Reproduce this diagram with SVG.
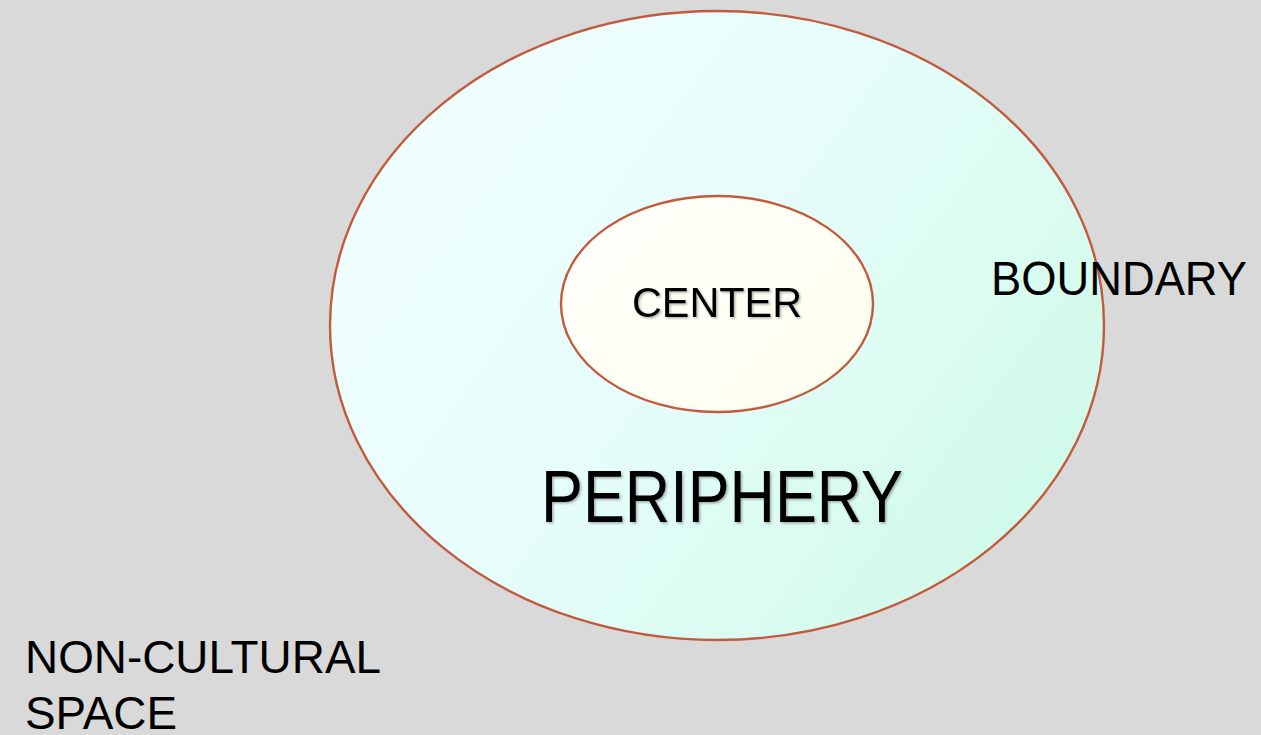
<svg xmlns="http://www.w3.org/2000/svg" width="1261" height="735" viewBox="0 0 1261 735">
<style>
.lbl{font-family:"Liberation Sans",Arial,sans-serif;fill:#000}
.ring{stroke:#c25a3e;stroke-width:2.4}
</style>
<defs>
<linearGradient id="gOuter" x1="0" y1="0" x2="1" y2="0.6">
<stop offset="0" stop-color="#f3ffff"/>
<stop offset="0.55" stop-color="#e6fdfb"/>
<stop offset="1" stop-color="#d2faea"/>
</linearGradient>
<linearGradient id="gInner" x1="0" y1="0" x2="1" y2="0.6">
<stop offset="0" stop-color="#fffefb"/>
<stop offset="1" stop-color="#fffff0"/>
</linearGradient>
<filter id="sh" x="-10%" y="-20%" width="120%" height="140%">
<feDropShadow dx="1.5" dy="1.5" stdDeviation="1" flood-color="#000" flood-opacity="0.3"/>
</filter>
</defs>
<rect x="0" y="0" width="1261" height="735" fill="#d9d9d9"/>
<g id="periphery">
<ellipse class="ring" cx="717" cy="325.5" rx="387" ry="314.5" fill="url(#gOuter)"/>
<text class="lbl" x="722" y="522" font-size="75" text-anchor="middle" textLength="362" lengthAdjust="spacingAndGlyphs" filter="url(#sh)">PERIPHERY</text>
</g>
<g id="center">
<ellipse class="ring" cx="717" cy="304" rx="156" ry="108" fill="url(#gInner)"/>
<text class="lbl" x="717" y="317" font-size="42" text-anchor="middle" textLength="170" lengthAdjust="spacingAndGlyphs" filter="url(#sh)">CENTER</text>
</g>
<g id="boundary">
<text class="lbl" x="991" y="295" font-size="49" textLength="256" lengthAdjust="spacingAndGlyphs">BOUNDARY</text>
</g>
<g id="noncultural">
<text class="lbl" x="25" y="673" font-size="46" textLength="356" lengthAdjust="spacingAndGlyphs">NON-CULTURAL</text>
<text class="lbl" x="25" y="729" font-size="46" textLength="152" lengthAdjust="spacingAndGlyphs">SPACE</text>
</g>
<g id="connectors"/>
</svg>
